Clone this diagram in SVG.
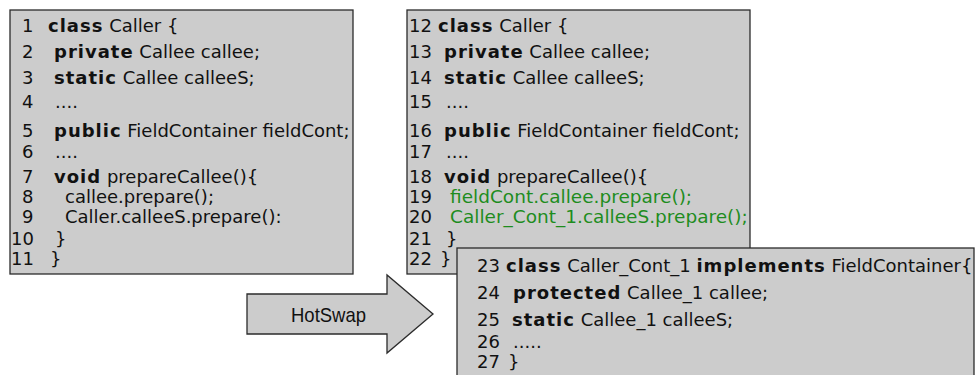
<svg xmlns="http://www.w3.org/2000/svg" width="976" height="375" viewBox="0 0 976 375">
<style>
.box{fill:#cccccc;stroke:#2b2b2b;stroke-width:1.3}
.code{font-family:"DejaVu Sans","Liberation Sans",sans-serif;font-size:18px;fill:#111}
.code3{font-family:"DejaVu Sans","Liberation Sans",sans-serif;font-size:18px;fill:#111}
.kw{font-weight:bold;letter-spacing:1px}
.new{fill:#1e8c1e;font-size:18.5px}
.lbl{font-family:"Liberation Sans",Arial,sans-serif;font-size:21px;fill:#111}
</style>
<rect width="976" height="375" fill="#ffffff"/>
<g id="connectors">
  <g id="hotswap-arrow">
    <polygon class="box" points="247,294 387,294 387,275 433,314 387,353 387,334 247,334"/>
    <text class="lbl" x="291" y="322" textLength="75" lengthAdjust="spacingAndGlyphs">HotSwap</text>
  </g>
</g>
<g id="caller-original">
  <rect class="box" x="10" y="10" width="343" height="264"/>
  <g class="code">
    <text x="22" y="32">1</text><text x="48" y="32"><tspan class="kw">class</tspan> Caller {</text>
    <text x="22" y="58">2</text><text x="54" y="58"><tspan class="kw">private</tspan> Callee callee;</text>
    <text x="22" y="84">3</text><text x="54" y="84"><tspan class="kw">static</tspan> Callee calleeS;</text>
    <text x="22" y="108">4</text><text x="55" y="108">....</text>
    <text x="22" y="137">5</text><text x="54" y="137"><tspan class="kw">public</tspan> FieldContainer fieldCont;</text>
    <text x="22" y="158">6</text><text x="55" y="158">....</text>
    <text x="22" y="183">7</text><text x="54" y="183"><tspan class="kw">void</tspan> prepareCallee(){</text>
    <text x="22" y="203">8</text><text x="65" y="203">callee.prepare();</text>
    <text x="22" y="223">9</text><text x="65" y="223">Caller.calleeS.prepare():</text>
    <text x="11" y="245">10</text><text x="55" y="245">}</text>
    <text x="11" y="265">11</text><text x="50" y="265">}</text>
  </g>
</g>
<g id="caller-swapped">
  <rect class="box" x="407" y="10" width="343" height="264"/>
  <g class="code">
    <text x="409" y="32">12</text><text x="438" y="32"><tspan class="kw">class</tspan> Caller {</text>
    <text x="409" y="58">13</text><text x="444" y="58"><tspan class="kw">private</tspan> Callee callee;</text>
    <text x="409" y="84">14</text><text x="444" y="84"><tspan class="kw">static</tspan> Callee calleeS;</text>
    <text x="409" y="108">15</text><text x="446" y="108">....</text>
    <text x="409" y="137">16</text><text x="444" y="137"><tspan class="kw">public</tspan> FieldContainer fieldCont;</text>
    <text x="409" y="158">17</text><text x="446" y="158">....</text>
    <text x="409" y="183">18</text><text x="444" y="183"><tspan class="kw">void</tspan> prepareCallee(){</text>
    <text x="409" y="203">19</text><text class="new" x="450" y="203">fieldCont.callee.prepare();</text>
    <text x="409" y="223">20</text><text class="new" x="450" y="223">Caller_Cont_1.calleeS.prepare();</text>
    <text x="409" y="245">21</text><text x="446" y="245">}</text>
    <text x="409" y="265">22</text><text x="440" y="265">}</text>
  </g>
</g>
<g id="caller-cont">
  <rect class="box" x="457" y="248" width="517" height="140"/>
  <g class="code3">
    <text x="477" y="272">23</text><text x="506" y="272"><tspan class="kw">class</tspan> Caller_Cont_1 <tspan class="kw">implements</tspan> FieldContainer{</text>
    <text x="477" y="299">24</text><text x="513" y="299"><tspan class="kw">protected</tspan> Callee_1 callee;</text>
    <text x="477" y="326">25</text><text x="512" y="326"><tspan class="kw">static</tspan> Callee_1 calleeS;</text>
    <text x="477" y="348">26</text><text x="513" y="348">.....</text>
    <text x="477" y="368">27</text><text x="508" y="368">}</text>
  </g>
</g>
</svg>
